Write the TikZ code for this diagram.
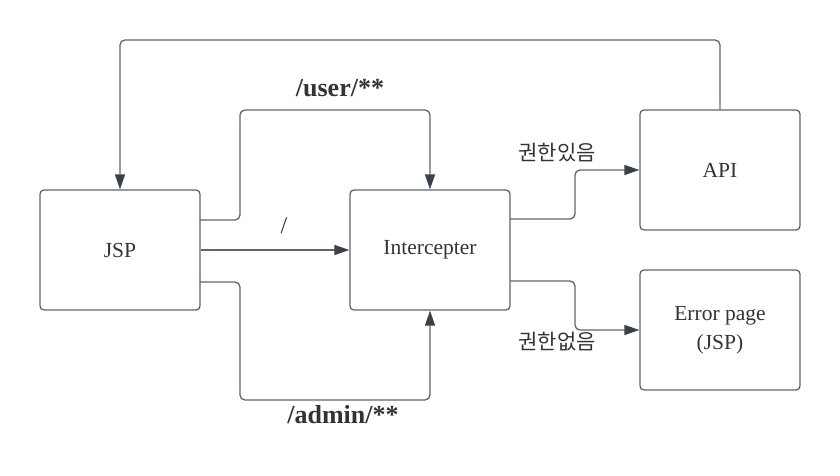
\documentclass[tikz,border=0pt]{standalone}
\usepackage{fontspec}
\setmainfont{Liberation Serif}
\newfontfamily\krfont{Noto Sans CJK KR}
\usetikzlibrary{arrows.meta}
\definecolor{linegray}{HTML}{5E6470}
\definecolor{tipgray}{HTML}{3A414A}
\definecolor{textgray}{HTML}{333333}
\tikzset{
  box/.style={draw=linegray, line width=1.3pt, rounded corners=4pt, minimum width=160pt, minimum height=120pt, inner sep=0pt, font=\fontsize{21.5}{29}\selectfont, text=textgray, align=center},
  conn/.style={draw=linegray, line width=1.3pt, rounded corners=5pt},
  arr/.style={conn, -{Triangle[length=15pt,width=10pt,fill=tipgray,color=tipgray]}},
  blabel/.style={font=\bfseries\fontsize{26}{30}\selectfont, text=textgray},
  plabel/.style={font=\fontsize{24}{28}\selectfont, text=textgray},
  klabel/.style={font=\krfont\fontsize{21}{25}\selectfont, text=textgray}
}
\begin{document}
\begin{tikzpicture}[x=1pt,y=-1pt]
\useasboundingbox (0,0) rectangle (840,476);
\node[box] (jsp) at (120,250) {JSP};
\node[box] (int) at (430,250) {Intercepter};
\node[box] (api) at (720,170) {API};
\node[box] (err) at (720,330) {Error page\\(JSP)};
\coordinate (u1) at (200,220);
\coordinate (a1) at (200,282);
\coordinate (i1) at (510,219);
\coordinate (i2) at (510,281);
% top loop API -> JSP
\draw[arr] (api.north) -- (720,40) -- (120,40) -- (jsp.north);
% /user/**
\draw[arr] (u1) -- (240,220) -- (240,110) -- (430,110) -- (int.north);
% /
\draw[arr] (jsp.east) -- (int.west);
% /admin/**
\draw[arr] (a1) -- (240,282) -- (240,400) -- (430,400) -- (int.south);
% to API
\draw[arr] (i1) -- (575,219) -- (575,170) -- (api.west);
% to Error
\draw[arr] (i2) -- (575,281) -- (575,330) -- (err.west);
\node[blabel] (lu) at (340,88) {/user/**};
\node[plabel] (ls) at (284,226) {/};
\node[blabel] (la) at (343,415) {/admin/**};
\node[klabel] (lk1) at (557,153) {권한있음};
\node[klabel] (lk2) at (557,342) {권한없음};
\end{tikzpicture}
\end{document}
